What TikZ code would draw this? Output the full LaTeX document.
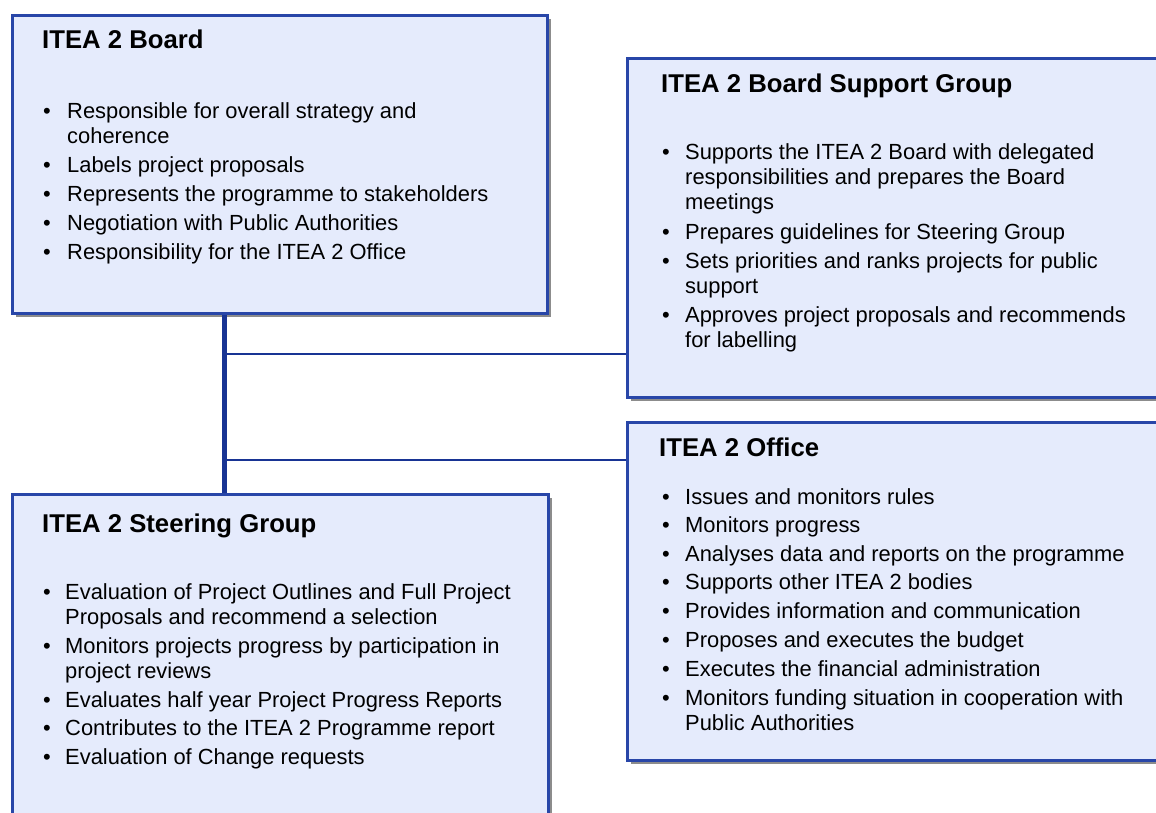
\documentclass[tikz,border=0pt]{standalone}
\usepackage{fontspec}
\setmainfont{Liberation Sans}
\definecolor{boxfill}{RGB}{229,235,252}
\definecolor{boxline}{RGB}{40,70,168}
\definecolor{conline}{RGB}{24,52,148}
\begin{document}
\begin{tikzpicture}[x=1pt,y=-1pt,
  panel/.style={draw=boxline, line width=2.6pt, fill=boxfill, rectangle, inner sep=0pt, anchor=north west},
  shade/.style={fill=black!45, draw=none, rectangle, inner sep=0pt, anchor=north west},
  ttl/.style={anchor=base west, inner sep=0pt, font=\fontsize{25.7}{30}\selectfont\bfseries},
  itm/.style={anchor=base west, inner sep=0pt, font=\fontsize{21.9}{25}\selectfont},
  conn/.style={draw=conline},
]
\useasboundingbox (0,0) rectangle (1156,813);
\clip (0,0) rectangle (1156,813);
% shadows
\node[shade, minimum width=535pt, minimum height=298pt] (bsh) at (16,19) {};
\node[shade, minimum width=560pt, minimum height=339pt] (ssh) at (631,62) {};
\node[shade, minimum width=560pt, minimum height=338pt] (osh) at (631,426) {};
\node[shade, minimum width=536pt, minimum height=350pt] (gsh) at (16,498) {};
% junction coordinates
\coordinate (j1) at (224,354);
\coordinate (j2) at (224,460);
% boxes
\node[panel, minimum width=535pt, minimum height=298pt] (board) at (11,14) {};
\node[panel, minimum width=560pt, minimum height=339pt] (support) at (626,57) {};
\node[panel, minimum width=560pt, minimum height=338pt] (office) at (626,421) {};
\node[panel, minimum width=536pt, minimum height=350pt] (steer) at (11,493) {};
% connectors
\draw[conn, line width=5pt] (board.south -| j1) -- (steer.north -| j1);
\draw[conn, line width=2.6pt] (j1) -- (support.west |- j1);
\draw[conn, line width=2.6pt] (j2) -- (office.west |- j2);
% Board text
\node[ttl] (t1) at (42,49) {ITEA 2 Board};
\node[itm] (b1d) at (43,119) {•}; \node[itm] (b1) at (67,119) {Responsible for overall strategy and};
\node[itm] (b1c) at (67,144) {coherence};
\node[itm] (b2d) at (43,173) {•}; \node[itm] (b2) at (67,173) {Labels project proposals};
\node[itm] (b3d) at (43,202) {•}; \node[itm] (b3) at (67,202) {Represents the programme to stakeholders};
\node[itm] (b4d) at (43,230) {•}; \node[itm] (b4) at (67,230) {Negotiation with Public Authorities};
\node[itm] (b5d) at (43,259) {•}; \node[itm] (b5) at (67,259) {Responsibility for the ITEA 2 Office};
% Support text
\node[ttl] (t2) at (661,93) {ITEA 2 Board Support Group};
\node[itm] (s1d) at (662,160) {•}; \node[itm] (s1) at (685,160) {Supports the ITEA 2 Board with delegated};
\node[itm] (s1b) at (685,185) {responsibilities and prepares the Board};
\node[itm] (s1c) at (685,210) {meetings};
\node[itm] (s2d) at (662,239) {•}; \node[itm] (s2) at (685,239) {Prepares guidelines for Steering Group};
\node[itm] (s3d) at (662,268) {•}; \node[itm] (s3) at (685,268) {Sets priorities and ranks projects for public};
\node[itm] (s3b) at (685,293) {support};
\node[itm] (s4d) at (662,322) {•}; \node[itm] (s4) at (685,322) {Approves project proposals and recommends};
\node[itm] (s4b) at (685,347) {for labelling};
% Office text
\node[ttl] (t3) at (659,456) {ITEA 2 Office};
\node[itm] (o1d) at (662,504) {•}; \node[itm] (o1) at (685,504) {Issues and monitors rules};
\node[itm] (o2d) at (662,532) {•}; \node[itm] (o2) at (685,532) {Monitors progress};
\node[itm] (o3d) at (662,561) {•}; \node[itm] (o3) at (685,561) {Analyses data and reports on the programme};
\node[itm] (o4d) at (662,589) {•}; \node[itm] (o4) at (685,589) {Supports other ITEA 2 bodies};
\node[itm] (o5d) at (662,618) {•}; \node[itm] (o5) at (685,618) {Provides information and communication};
\node[itm] (o6d) at (662,647) {•}; \node[itm] (o6) at (685,647) {Proposes and executes the budget};
\node[itm] (o7d) at (662,676) {•}; \node[itm] (o7) at (685,676) {Executes the financial administration};
\node[itm] (o8d) at (662,705) {•}; \node[itm] (o8) at (685,705) {Monitors funding situation in cooperation with};
\node[itm] (o8b) at (685,730) {Public Authorities};
% Steering text
\node[ttl] (t4) at (42,532) {ITEA 2 Steering Group};
\node[itm] (g1d) at (43,599) {•}; \node[itm] (g1) at (65,599) {Evaluation of Project Outlines and Full Project};
\node[itm] (g1b) at (65,624) {Proposals and recommend a selection};
\node[itm] (g2d) at (43,653) {•}; \node[itm] (g2) at (65,653) {Monitors projects progress by participation in};
\node[itm] (g2b) at (65,678) {project reviews};
\node[itm] (g3d) at (43,707) {•}; \node[itm] (g3) at (65,707) {Evaluates half year Project Progress Reports};
\node[itm] (g4d) at (43,735) {•}; \node[itm] (g4) at (65,735) {Contributes to the ITEA 2 Programme report};
\node[itm] (g5d) at (43,764) {•}; \node[itm] (g5) at (65,764) {Evaluation of Change requests};
\end{tikzpicture}
\end{document}
